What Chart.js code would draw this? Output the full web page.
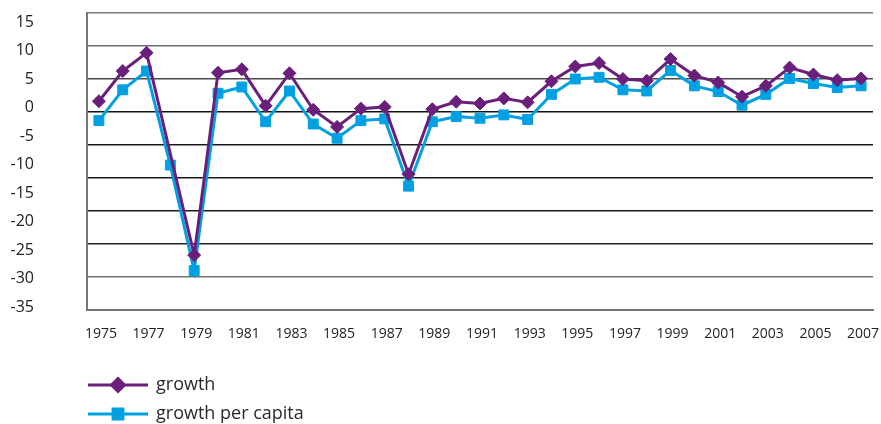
<!DOCTYPE html>
<html><head><meta charset="utf-8">
<script src="https://cdn.jsdelivr.net/npm/chart.js@4/dist/chart.umd.min.js"></script>
<style>html,body{margin:0;padding:0;background:#fff}#wrap{width:881px;height:424px;position:relative}</style>
</head><body><div id="wrap"><canvas id="c" width="881" height="424"></canvas></div>
<script>
const years = ['1975','1976','1977','1978','1979','1980','1981','1982','1983','1984','1985','1986','1987','1988','1989','1990','1991','1992','1993','1994','1995','1996','1997','1998','1999','2000','2001','2002','2003','2004','2005','2006','2007'];
const growth = [1.1, 6.4, 9.6, null, -25.9, 6.1, 6.7, 0.3, 6.0, -0.4, -3.4, -0.2, 0.1, -11.7, -0.3, 1.0, 0.7, 1.6, 0.9, 4.6, 7.2, 7.8, 5.0, 4.7, 8.5, 5.6, 4.4, 1.9, 3.8, 7.0, 5.8, 4.8, 5.1];
const growthPerCapita = [-2.3, 3.1, 6.4, -10.1, -28.6, 2.5, 3.6, -2.5, 2.9, -2.9, -5.4, -2.3, -2.0, -13.8, -2.5, -1.6, -1.9, -1.3, -2.1, 2.3, 5.0, 5.3, 3.1, 2.9, 6.5, 3.8, 2.8, 0.4, 2.3, 5.1, 4.2, 3.5, 3.8];
const yTickLabels = [15, 10, 5, 0, -5, -10, -15, -20, -25, -30, -35];
const seriesNames = ['growth', 'growth per capita'];

const FONT = "'Open Sans', 'Noto Sans', sans-serif";
const PURPLE = '#6a1f7a';
const BLUE = '#00a0e3';

const gridColors = {'-30':'#777','-25':'#707070','-20':'#222','-15':'#1a1a1a','-10':'#1a1a1a','-5':'#1a1a1a','0':'#111','5':'#4a4a4a','10':'#6e6e6e','15':'#7a7a7a'};

const legendPlugin = {
  id: 'stackedLegend',
  afterDraw(chart) {
    const ctx = chart.ctx;
    const rows = [385, 414];
    ctx.save();
    chart.data.datasets.forEach((ds, i) => {
      const y = rows[i];
      ctx.strokeStyle = ds.borderColor;
      ctx.lineWidth = 3;
      ctx.beginPath(); ctx.moveTo(88, y); ctx.lineTo(148, y); ctx.stroke();
      ctx.fillStyle = ds.backgroundColor;
      Chart.helpers.drawPoint(ctx, {pointStyle: ds.pointStyle, radius: ds.pointRadius, borderWidth: 1, rotation: 0}, 118, y);
      ctx.fillStyle = '#2a2a2a';
      ctx.font = "18px " + FONT;
      ctx.textAlign = 'left';
      ctx.textBaseline = 'middle';
      ctx.fillText(ds.label, 156, y);
    });
    ctx.restore();
  }
};

new Chart(document.getElementById('c'), {
  type: 'line',
  data: {
    labels: years,
    datasets: [
      {label: seriesNames[0], data: growth, yAxisID: 'y', borderColor: PURPLE, backgroundColor: PURPLE,
       borderWidth: 3, pointStyle: 'rectRot', pointRadius: 6.5, pointBorderWidth: 1, pointBorderColor: PURPLE,
       spanGaps: true, tension: 0},
      {label: seriesNames[1], data: growthPerCapita, yAxisID: 'y', borderColor: BLUE, backgroundColor: BLUE,
       borderWidth: 3, pointStyle: 'rect', pointRadius: 7, pointBorderWidth: 1, pointBorderColor: BLUE,
       spanGaps: true, tension: 0}
    ]
  },
  options: {
    responsive: false,
    animation: false,
    devicePixelRatio: 1,
    layout: {padding: {top: 13, right: 0, left: 0, bottom: 0}},
    plugins: {legend: {display: false}, tooltip: {enabled: false}, title: {display: false}},
    scales: {
      x: {
        type: 'category', offset: true,
        grid: {display: false, drawTicks: false},
        border: {display: true, color: '#777', width: 2},
        ticks: {autoSkip: false, maxRotation: 0, minRotation: 0, padding: 16, labelOffset: 2, color: '#222',
          font: {size: 14, family: FONT},
          callback: function(v, i) { return i % 2 === 0 ? this.getLabelForValue(v) : ''; }},
        afterFit: s => { s.height = 114; s.paddingLeft = 0; s.paddingRight = 0; s.paddingTop = 0; s.paddingBottom = 0; }
      },
      y: {
        position: 'left', weight: 1, min: -35.53, max: 16.58,
        grid: {display: false, drawTicks: false},
        border: {display: false},
        ticks: {padding: 53, color: '#222', font: {size: 16, family: FONT}},
        afterBuildTicks: s => { s.ticks = yTickLabels.map(v => ({value: v})); },
        afterFit: s => { s.width = 87; s.paddingTop = 0; s.paddingBottom = 0; }
      },
      yg: {
        position: 'left', weight: 0, min: -30, max: 15,
        grid: {drawTicks: false, lineWidth: 1.5, color: c => gridColors[String(c.tick.value)] || '#222'},
        border: {display: true, color: '#777', width: 2},
        ticks: {display: false, stepSize: 5},
        afterFit: s => { s.width = 0; s.paddingTop = 0; s.paddingBottom = 0; }
      }
    }
  },
  plugins: [legendPlugin]
});
</script></body></html>
